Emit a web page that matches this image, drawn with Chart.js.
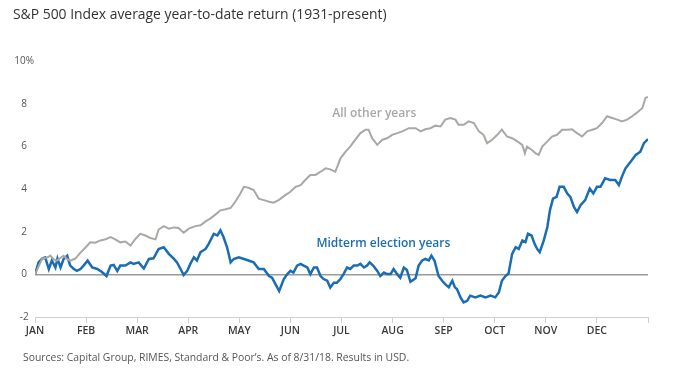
<!DOCTYPE html>
<html>
<head>
<meta charset="utf-8">
<script src="https://cdn.jsdelivr.net/npm/chart.js@4"></script>
<style>
  body { margin: 0; background: #fff; }
  #wrap { position: relative; width: 676px; height: 377px; }
  #title { position: absolute; left: 13px; top: 4px; font: 13.9px "Open Sans", sans-serif; color: #333; white-space: nowrap; }
  #source { position: absolute; left: 23px; top: 350px; font: 10.4px "Open Sans", sans-serif; color: #555; white-space: nowrap; }
  canvas { position: absolute; left: 0; top: 0; }
</style>
</head>
<body>
<div id="wrap">
  <canvas id="chart" width="676" height="377"></canvas>
  <div id="title">S&amp;P 500 Index average year-to-date return (1931-present)</div>
  <div id="source">Sources: Capital Group, RIMES, Standard &amp; Poor’s. As of 8/31/18. Results in USD.</div>
</div>
<script>
// month labels on the x axis (value 0 = start of JAN, 12 = end of DEC)
const months = ['JAN', 'FEB', 'MAR', 'APR', 'MAY', 'JUN', 'JUL', 'AUG', 'SEP', 'OCT', 'NOV', 'DEC'];

// All other years (position in months, return %)
const otherX = [0, 0.14, 0.24, 0.30, 0.37, 0.43, 0.50, 0.56, 0.63, 0.69, 0.79, 0.89, 0.99, 1.08, 1.18, 1.28, 1.38, 1.48, 1.57, 1.67,
  1.77, 1.87, 1.97, 2.06, 2.16, 2.26, 2.36, 2.42, 2.52, 2.62, 2.72, 2.81, 2.91, 3.01, 3.14, 3.24, 3.34, 3.43, 3.53, 3.63,
  3.73, 3.83, 3.92, 4.02, 4.09, 4.18, 4.28, 4.38, 4.48, 4.58, 4.67, 4.77, 4.90, 5.00, 5.10, 5.20, 5.29, 5.39, 5.49, 5.59,
  5.69, 5.78, 5.88, 5.98, 6.08, 6.17, 6.27, 6.37, 6.47, 6.53, 6.60, 6.70, 6.80, 6.89, 6.99, 7.09, 7.19, 7.32, 7.45, 7.55,
  7.64, 7.74, 7.84, 7.94, 8.03, 8.13, 8.23, 8.29, 8.39, 8.49, 8.59, 8.69, 8.78, 8.85, 8.95, 9.05, 9.14, 9.24, 9.34, 9.44,
  9.54, 9.59, 9.63, 9.73, 9.80, 9.86, 9.93, 10.03, 10.12, 10.22, 10.32, 10.42, 10.51, 10.61, 10.71, 10.81, 10.91, 11.00, 11.10, 11.20,
  11.30, 11.40, 11.49, 11.59, 11.69, 11.79, 11.89, 11.95, 12.0];
const otherY = [0, 0.74, 0.79, 0.88, 0.70, 0.64, 0.78, 0.87, 0.71, 0.64, 0.74, 1.02, 1.26, 1.50, 1.48, 1.59, 1.64, 1.75, 1.64, 1.50,
  1.54, 1.35, 1.67, 1.90, 1.82, 1.70, 1.64, 2.10, 2.26, 2.14, 2.20, 2.17, 1.95, 2.14, 2.26, 2.30, 2.48, 2.61, 2.80, 3.00,
  3.05, 3.11, 3.40, 3.79, 4.10, 4.06, 3.95, 3.55, 3.48, 3.40, 3.36, 3.48, 3.71, 3.87, 4.10, 4.18, 4.42, 4.66, 4.66, 4.81,
  4.97, 4.92, 4.81, 5.44, 5.75, 5.99, 6.31, 6.62, 6.78, 6.78, 6.38, 6.07, 6.31, 6.38, 6.54, 6.62, 6.70, 6.85, 6.85, 6.70,
  6.80, 6.85, 6.97, 6.93, 7.25, 7.33, 7.25, 7.01, 7.01, 7.17, 7.09, 6.70, 6.54, 6.15, 6.31, 6.54, 6.78, 6.46, 6.38, 6.23,
  6.07, 5.67, 5.99, 5.83, 5.67, 5.60, 5.99, 6.23, 6.46, 6.54, 6.78, 6.78, 6.80, 6.62, 6.46, 6.70, 6.78, 6.85, 7.09, 7.41,
  7.33, 7.25, 7.17, 7.25, 7.41, 7.59, 7.80, 8.27, 8.32];

// Midterm election years
const midX = [0, 0.07, 0.14, 0.20, 0.27, 0.33, 0.40, 0.44, 0.50, 0.56, 0.63, 0.69, 0.76, 0.82, 0.89, 0.95, 1.03, 1.12, 1.22, 1.31,
  1.40, 1.48, 1.54, 1.61, 1.67, 1.77, 1.87, 1.93, 2.03, 2.13, 2.23, 2.32, 2.42, 2.52, 2.62, 2.72, 2.78, 2.85, 2.91, 2.98,
  3.04, 3.11, 3.17, 3.24, 3.34, 3.40, 3.50, 3.57, 3.63, 3.69, 3.76, 3.83, 3.89, 3.99, 4.09, 4.18, 4.28, 4.38, 4.48, 4.58,
  4.64, 4.71, 4.78, 4.87, 4.94, 5.00, 5.06, 5.13, 5.20, 5.26, 5.33, 5.39, 5.46, 5.52, 5.59, 5.65, 5.72, 5.78, 5.85, 5.91,
  5.98, 6.04, 6.11, 6.17, 6.24, 6.31, 6.37, 6.44, 6.50, 6.55, 6.62, 6.70, 6.76, 6.83, 6.89, 6.96, 7.02, 7.09, 7.15, 7.22,
  7.28, 7.35, 7.45, 7.51, 7.58, 7.64, 7.71, 7.76, 7.82, 7.90, 7.97, 8.03, 8.10, 8.17, 8.22, 8.26, 8.33, 8.39, 8.46, 8.52,
  8.62, 8.72, 8.82, 8.92, 9.01, 9.08, 9.14, 9.21, 9.27, 9.34, 9.41, 9.47, 9.54, 9.60, 9.65, 9.72, 9.78, 9.83, 9.88, 9.96,
  10.03, 10.08, 10.14, 10.21, 10.27, 10.35, 10.42, 10.48, 10.55, 10.61, 10.68, 10.77, 10.86, 10.93, 11.00, 11.07, 11.16, 11.26, 11.36, 11.43,
  11.49, 11.56, 11.66, 11.76, 11.85, 11.92, 12.0];
const midY = [0, 0.56, 0.74, 0.79, 0.25, 0.65, 0.32, 0.74, 0.32, 0.72, 0.87, 0.41, 0.25, 0.16, 0.25, 0.41, 0.64, 0.32, 0.25, 0.11,
  -0.08, 0.41, 0.44, 0.16, 0.41, 0.41, 0.56, 0.49, 0.56, 0.27, 0.72, 0.75, 1.19, 1.27, 0.96, 0.72, 0.56, 0.25, -0.03, 0.16,
  0.49, 0.80, 0.65, 1.04, 1.19, 1.43, 1.90, 1.82, 2.06, 1.75, 1.27, 0.56, 0.72, 0.80, 0.72, 0.65, 0.56, 0.25, 0.25, -0.08,
  -0.16, -0.47, -0.78, -0.22, 0.01, 0.16, 0.08, 0.41, 0.49, 0.41, 0.32, 0.01, 0.32, 0.32, -0.08, -0.22, -0.30, -0.62, -0.39, -0.39,
  -0.22, 0.01, 0.32, 0.25, 0.41, 0.41, 0.49, 0.32, 0.41, 0.56, 0.41, 0.16, -0.08, 0.08, 0.01, 0.01, 0.25, 0.01, -0.16, 0.32,
  0.20, -0.35, -0.18, 0.41, 0.65, 0.72, 0.65, 0.87, 0.65, -0.08, -0.30, -0.46, -0.61, -0.30, -0.61, -0.69, -1.08, -1.32, -1.24, -1.00,
  -1.08, -1.00, -1.08, -1.00, -1.08, -0.85, -0.30, -0.08, 0.04, 0.96, 1.27, 1.19, 1.59, 1.51, 1.90, 1.82, 1.43, 1.19, 1.04, 1.59,
  2.22, 3.00, 3.55, 3.63, 4.10, 4.10, 3.79, 3.63, 3.16, 2.92, 3.24, 3.48, 4.02, 3.79, 4.10, 4.10, 4.50, 4.42, 4.42, 4.18,
  4.58, 4.97, 5.28, 5.60, 5.75, 6.15, 6.34];

// in-chart series labels
const labelText = ['All other years', 'Midterm election years'];
const labelX = [5.82, 5.51];
const labelY = [7.55, 1.42];

const grayColor = '#a9a8a5';
const blueColor = '#1b6db3';

const toPoints = (xs, ys) => xs.map((x, i) => ({ x: x, y: ys[i] }));

// draws the series names inside the plot
const seriesLabels = {
  id: 'seriesLabels',
  afterDatasetsDraw(chart) {
    const { ctx, scales } = chart;
    const colors = [grayColor, blueColor];
    ctx.save();
    ctx.textAlign = 'left';
    ctx.textBaseline = 'middle';
    ctx.font = '600 12px "Open Sans", sans-serif';
    labelText.forEach((t, i) => {
      ctx.fillStyle = colors[i];
      ctx.fillText(t, scales.x.getPixelForValue(labelX[i]), scales.y.getPixelForValue(labelY[i]));
    });
    ctx.restore();
  }
};

new Chart(document.getElementById('chart'), {
  type: 'line',
  data: {
    datasets: [
      {
        label: 'All other years',
        data: toPoints(otherX, otherY),
        borderColor: grayColor,
        borderWidth: 2,
        pointRadius: 0,
        tension: 0
      },
      {
        label: 'Midterm election years',
        data: toPoints(midX, midY),
        borderColor: blueColor,
        borderWidth: 2.5,
        pointRadius: 0,
        tension: 0
      }
    ]
  },
  options: {
    responsive: false,
    animation: false,
    devicePixelRatio: 1,
    layout: { padding: { left: 0, right: 28, top: 61, bottom: 30 } },
    plugins: {
      legend: { display: false },
      tooltip: { enabled: false }
    },
    scales: {
      x: {
        type: 'linear',
        min: 0,
        max: 12,
        afterFit: s => { s.height = 30; },
        border: { display: true, color: '#cfcfcf', width: 1 },
        grid: { drawOnChartArea: false, drawTicks: true, tickLength: 6, color: '#cfcfcf' },
        ticks: {
          stepSize: 1,
          padding: 2,
          color: '#3a3a3a',
          font: { family: 'Open Sans', size: 10.5, weight: '600' },
          callback: v => months[v] || ''
        }
      },
      y: {
        min: -2,
        max: 10,
        afterFit: s => { s.width = 35; },
        border: { display: false },
        grid: {
          drawTicks: false,
          lineWidth: 1.5,
          color: c => c.tick && c.tick.value === 0 ? '#9a9a9a' : 'rgba(0,0,0,0)'
        },
        ticks: {
          stepSize: 2,
          padding: 1,
          crossAlign: 'center',
          color: '#555',
          font: { family: 'Open Sans', size: 10 },
          callback: v => v === 10 ? '10%' : v
        }
      }
    }
  },
  plugins: [seriesLabels]
});
</script>
</body>
</html>
